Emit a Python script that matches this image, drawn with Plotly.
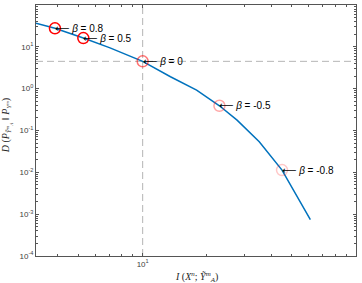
import numpy as np
import plotly.graph_objects as go

# Curve
curve_x = [3.16, 3.88, 5.27, 7.03, 10.0, 13.5, 17.9, 22.9, 27.7, 35.2, 45.0, 61.1]
curve_y = [36.5, 27.7, 16.2, 9.42, 4.5, 1.93, 0.927, 0.39, 0.177, 0.0537, 0.0113, 7.4e-4]

# Marked beta points
beta_labels = ["0.8", "0.5", "0", "-0.5", "-0.8"]
beta_x = [3.88, 5.27, 10.0, 22.9, 45.0]
beta_y = [27.7, 16.2, 4.5, 0.39, 0.0113]
beta_alpha = [1.0, 1.0, 0.55, 0.35, 0.22]

x_range = [3.1623, 100]
y_range = [1e-4, 100]
ref_x = 10.0
ref_y = 4.5

ytick_vals = [1e-4, 1e-3, 1e-2, 1e-1, 1, 10, 100]
ytick_text = ["10<sup>-4</sup>", "10<sup>-3</sup>", "10<sup>-2</sup>", "10<sup>-1</sup>",
              "10<sup>0</sup>", "10<sup>1</sup>", "10<sup>2</sup>"]
xtick_vals = [10, 100]
xtick_text = ["10<sup>1</sup>", "10<sup>2</sup>"]

x_title = "<i>I</i> (<i>X</i><sup><i>n</i></sup>; <i>\u1ef8</i><sup><i>m</i></sup><sub><i>A</i></sub>)"
y_title = "<i>D</i> (<i>P</i><sub><i>\u1ef8</i><sup><i>m</i></sup><sub><i>A</i></sub></sub> \u2016 <i>P</i><sub><i>Y</i><sup><i>m</i></sup></sub>)"

fig = go.Figure()

dash_color = "#b5b5b5"
fig.add_trace(go.Scatter(x=[ref_x, ref_x], y=y_range, mode="lines",
                         line=dict(color=dash_color, width=1, dash="7px,4px"),
                         showlegend=False, hoverinfo="skip"))
fig.add_trace(go.Scatter(x=x_range, y=[ref_y, ref_y], mode="lines",
                         line=dict(color=dash_color, width=1, dash="7px,4px"),
                         showlegend=False, hoverinfo="skip"))

fig.add_trace(go.Scatter(x=curve_x, y=curve_y, mode="lines",
                         line=dict(color="#0072BD", width=1.5),
                         showlegend=False))

fig.add_trace(go.Scatter(x=beta_x, y=beta_y, mode="markers",
                         marker=dict(symbol="circle-open", size=11,
                                     color=[f"rgba(255,0,0,{a})" for a in beta_alpha],
                                     line=dict(width=1.5)),
                         showlegend=False))

for lab, bx, by in zip(beta_labels, beta_x, beta_y):
    fig.add_annotation(x=np.log10(bx), y=np.log10(by), xref="x", yref="y",
                       text="\u27f5 <i>\u03b2</i> = " + lab, showarrow=False,
                       xanchor="left", yanchor="middle", xshift=-2,
                       font=dict(family="Liberation Sans, DejaVu Sans, Arial", size=10, color="#000000"))

fig.add_annotation(x=0.5, y=-0.085, xref="paper", yref="paper", text=x_title,
                   showarrow=False, xanchor="center", yanchor="middle",
                   font=dict(family="Liberation Serif, Times New Roman", size=10, color="#262626"))
fig.add_annotation(x=-0.088, y=0.52, xref="paper", yref="paper", text=y_title,
                   showarrow=False, xanchor="center", yanchor="middle", textangle=-90,
                   font=dict(family="Liberation Serif, Times New Roman", size=10, color="#262626"))

axis_common = dict(type="log", showgrid=False, zeroline=False, showline=True,
                   linecolor="#555555", linewidth=1, mirror="ticks",
                   ticks="inside", ticklen=3, tickcolor="#555555", automargin=False,
                   tickfont=dict(family="Liberation Sans, Arial", size=8, color="#404040"))

minor_x = [v * m for v in [1, 10] for m in range(2, 10)]
minor_y = [10.0 ** e * m for e in range(-4, 2) for m in range(2, 10)]

fig.update_xaxes(range=[np.log10(x_range[0]), np.log10(x_range[1])],
                 tickmode="array", tickvals=xtick_vals, ticktext=xtick_text,
                 minor=dict(tickmode="array", tickvals=minor_x, ticks="inside",
                            ticklen=2, tickcolor="#555555"),
                 **axis_common)
fig.update_yaxes(range=[np.log10(y_range[0]), np.log10(y_range[1])],
                 tickmode="array", tickvals=ytick_vals, ticktext=ytick_text,
                 minor=dict(tickmode="array", tickvals=minor_y, ticks="inside",
                            ticklen=2, tickcolor="#555555"),
                 **axis_common)

fig.update_layout(width=362, height=283,
                  margin=dict(l=36, r=6, t=5, b=27),
                  paper_bgcolor="white", plot_bgcolor="white")

fig.write_html("out.html", config={"displayModeBar": False},
               post_script="document.body.style.margin='0px';document.body.style.overflow='hidden';")
